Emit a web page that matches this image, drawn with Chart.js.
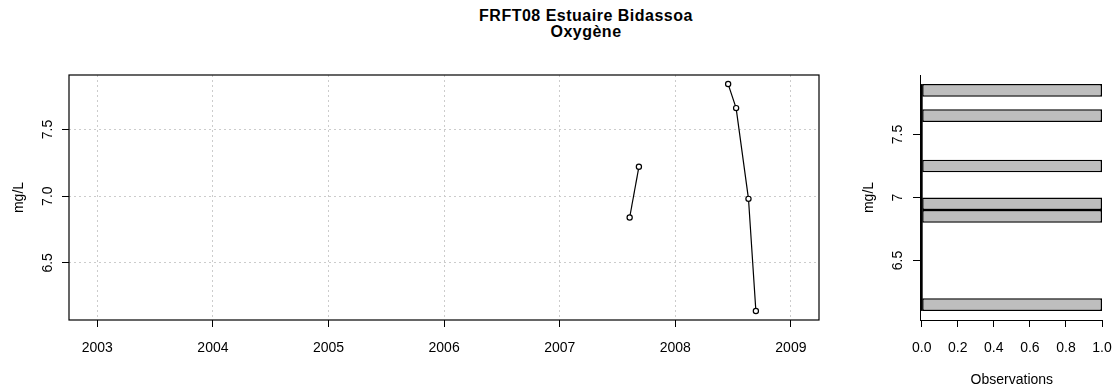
<!DOCTYPE html>
<html>
<head>
<meta charset="utf-8">
<title>FRFT08 Estuaire Bidassoa - Oxygène</title>
<script src="https://cdn.jsdelivr.net/npm/chart.js@4.4.0/dist/chart.umd.min.js"></script>
<style>
  html, body { margin: 0; padding: 0; background: #fff; }
  body { width: 1112px; height: 385px; position: relative; overflow: hidden;
         font-family: "Liberation Sans", Arial, sans-serif; }
  #title { position: absolute; left: 386px; top: 8px; width: 400px; text-align: center;
           font-weight: bold; font-size: 16px; line-height: 16px; letter-spacing: 0.5px; color: #000; }
  #seriesBox { position: absolute; left: 0; top: 0; width: 840px; height: 385px; }
  #histBox { position: absolute; left: 840px; top: 0; width: 272px; height: 385px; }
</style>
</head>
<body>
<div id="title">FRFT08 Estuaire Bidassoa<br>Oxygène</div>
<div id="seriesBox"><canvas id="seriesChart"></canvas></div>
<div id="histBox"><canvas id="histChart"></canvas></div>
<script>
// dissolved oxygen samples (decimal year, mg/L), grouped by sampling campaign
const sampleDates = [2007.605, 2007.685, 2008.457, 2008.526, 2008.633, 2008.697];
const oxygenValues = [6.84, 7.22, 7.84, 7.66, 6.98, 6.14];
const campaign = [1, 1, 2, 2, 2, 2];

const yearTicks = [2003, 2004, 2005, 2006, 2007, 2008, 2009];
const oxygenTicks = [6.5, 7.0, 7.5];

// histogram classes of 0.1 mg/L
const histBreaks = [6.1, 6.2, 6.3, 6.4, 6.5, 6.6, 6.7, 6.8, 6.9, 7.0,
                    7.1, 7.2, 7.3, 7.4, 7.5, 7.6, 7.7, 7.8, 7.9];
const histCounts = [1, 0, 0, 0, 0, 0, 0, 1, 1, 0, 0, 1, 0, 0, 0, 1, 0, 1];
const countTicks = [0, 0.2, 0.4, 0.6, 0.8, 1.0];

const FONT = '"Liberation Sans", Arial, sans-serif';
Chart.defaults.font.family = FONT;
Chart.defaults.font.size = 14;
Chart.defaults.color = '#000';

// R-style vertical tick labels and axis titles, drawn beside the plot region
function sideLabels(id, fmt, tickGap, titleGap, xTitle) {
  return {
    id: id,
    afterDraw(chart) {
      const { ctx, chartArea, scales } = chart;
      const y = scales.y;
      ctx.save();
      ctx.fillStyle = '#000';
      ctx.font = '14px ' + FONT;
      ctx.textAlign = 'center';
      ctx.textBaseline = 'middle';
      y.ticks.forEach(t => {
        ctx.save();
        ctx.translate(chartArea.left - tickGap, y.getPixelForValue(t.value));
        ctx.rotate(-Math.PI / 2);
        ctx.fillText(fmt(t.value), 0, 0);
        ctx.restore();
      });
      ctx.save();
      ctx.translate(chartArea.left - titleGap, (chartArea.top + chartArea.bottom) / 2);
      ctx.rotate(-Math.PI / 2);
      ctx.fillText('mg/L', 0, 0);
      ctx.restore();
      if (xTitle) {
        const x = scales.x;
        ctx.fillText(xTitle, (x.getPixelForValue(0) + x.getPixelForValue(1)) / 2, 380);
      }
      ctx.restore();
    }
  };
}

const plotFrame = {
  id: 'plotFrame',
  afterDraw(chart) {
    const { ctx, chartArea: a } = chart;
    ctx.save();
    ctx.strokeStyle = '#000';
    ctx.lineWidth = 1.2;
    ctx.strokeRect(a.left, a.top, a.right - a.left, a.bottom - a.top);
    ctx.restore();
  }
};

// zero-count classes collapse onto the baseline
const zeroLine = {
  id: 'zeroLine',
  afterDatasetsDraw(chart) {
    const { ctx, scales } = chart;
    const x0 = scales.x.getPixelForValue(0);
    ctx.save();
    ctx.strokeStyle = '#000';
    ctx.lineWidth = 2;
    ctx.beginPath();
    ctx.moveTo(x0, scales.y.getPixelForValue(histBreaks[0]));
    ctx.lineTo(x0, scales.y.getPixelForValue(histBreaks[histBreaks.length - 1]));
    ctx.stroke();
    ctx.restore();
  }
};

// keep the plot region fixed: no extra room for edge tick labels
function fixHeight(h) {
  return s => { s.height = h; s.paddingLeft = 0; s.paddingRight = 0; };
}

const runs = [...new Set(campaign)].map(c => ({
  data: sampleDates
    .map((d, i) => ({ x: d, y: oxygenValues[i], c: campaign[i] }))
    .filter(p => p.c === c),
  borderColor: '#000',
  borderWidth: 1.2,
  pointRadius: 2.6,
  pointBorderWidth: 1.2,
  pointBackgroundColor: '#fff',
  pointBorderColor: '#000',
  tension: 0,
  fill: false
}));

new Chart(document.getElementById('seriesChart'), {
  type: 'line',
  data: { datasets: runs },
  options: {
    responsive: true,
    maintainAspectRatio: false,
    animation: false,
    events: [],
    layout: { padding: { top: 75, right: 21, bottom: 0, left: 0 } },
    plugins: { legend: { display: false }, tooltip: { enabled: false } },
    scales: {
      x: {
        type: 'linear',
        min: 2002.755,
        max: 2009.243,
        afterBuildTicks: s => { s.ticks = yearTicks.map(v => ({ value: v })); },
        afterFit: fixHeight(65),
        grid: { color: '#cccccc', lineWidth: 1, tickLength: 7, tickColor: '#000', tickWidth: 1 },
        border: { display: false, dash: [2, 3] },
        ticks: { padding: 13, maxRotation: 0, autoSkip: false, callback: v => String(v) }
      },
      y: {
        type: 'linear',
        min: 6.072,
        max: 7.908,
        afterBuildTicks: s => { s.ticks = oxygenTicks.map(v => ({ value: v })); },
        afterFit: s => { s.width = 69; s.paddingTop = 0; s.paddingBottom = 0; },
        grid: { color: '#cccccc', lineWidth: 1, tickLength: 7, tickColor: '#000', tickWidth: 1 },
        border: { display: false, dash: [2, 3] },
        ticks: { display: false }
      }
    }
  },
  plugins: [plotFrame, sideLabels('seriesLabels', v => v.toFixed(1), 21, 50, null)]
});

new Chart(document.getElementById('histChart'), {
  type: 'bar',
  data: {
    datasets: [{
      data: histCounts.map((n, i) => ({ y: (histBreaks[i] + histBreaks[i + 1]) / 2, x: n })),
      backgroundColor: '#bebebe',
      borderColor: '#000',
      borderWidth: 1.5,
      borderSkipped: false,
      inflateAmount: 0,
      barPercentage: 1,
      categoryPercentage: 1
    }]
  },
  options: {
    indexAxis: 'y',
    responsive: true,
    maintainAspectRatio: false,
    animation: false,
    events: [],
    layout: { padding: { top: 75, right: 10, bottom: 0, left: 0 } },
    plugins: { legend: { display: false }, tooltip: { enabled: false } },
    scales: {
      y: {
        type: 'linear',
        offset: false,
        min: 6.028,
        max: 7.972,
        afterBuildTicks: s => { s.ticks = oxygenTicks.map(v => ({ value: v })); },
        afterFit: s => { s.width = 80; s.paddingTop = 0; s.paddingBottom = 0; },
        grid: { drawOnChartArea: false, offset: false, tickLength: 7, tickColor: '#000', tickWidth: 1 },
        border: { display: true, color: '#000', width: 1 },
        ticks: { display: false }
      },
      x: {
        type: 'linear',
        min: -0.0094,
        max: 1,
        afterBuildTicks: s => { s.ticks = countTicks.map(v => ({ value: v })); },
        afterFit: fixHeight(65),
        grid: { drawOnChartArea: false, tickLength: 7, tickColor: '#000', tickWidth: 1 },
        border: { display: true, color: '#000', width: 1 },
        ticks: { padding: 13, maxRotation: 0, autoSkip: false, callback: v => v.toFixed(1) }
      }
    }
  },
  plugins: [zeroLine, sideLabels('histLabels', v => String(v), 22, 51, 'Observations')]
});
</script>
</body>
</html>
